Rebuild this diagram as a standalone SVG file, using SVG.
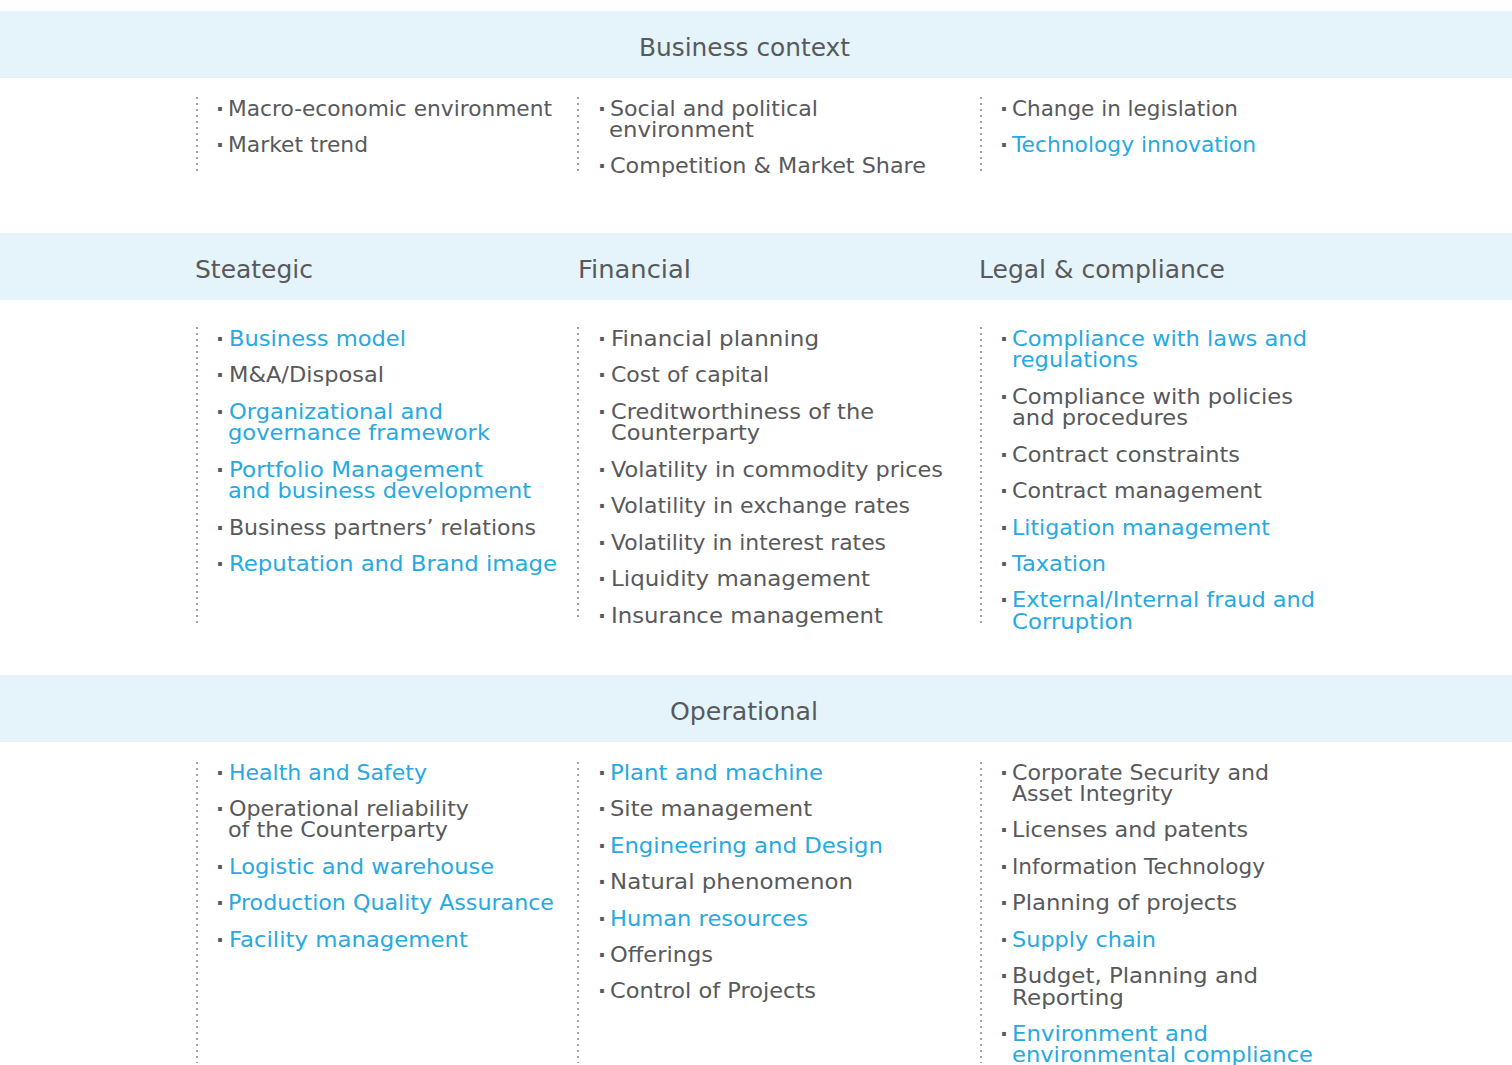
<svg xmlns="http://www.w3.org/2000/svg" width="1512" height="1065" viewBox="0 0 1512 1065">
<style>
.band{fill:#e5f4fb}
.t{font-family:"DejaVu Sans","Liberation Sans",sans-serif;font-size:21px;fill:#58595b}
.b{fill:#27a9e1}
.h{font-family:"DejaVu Sans","Liberation Sans",sans-serif;font-size:24px;fill:#58595b}
.d{font-family:"DejaVu Sans","Liberation Sans",sans-serif;font-size:21px;font-weight:bold;fill:#58595b}
.dots{stroke:#a3a3a3;stroke-width:2;stroke-dasharray:2 4}
</style>
<rect width="1512" height="1065" fill="#ffffff"/>
<g id="bands">
<rect class="band" x="0" y="11" width="1512" height="67"/>
<rect class="band" x="0" y="233" width="1512" height="67"/>
<rect class="band" x="0" y="675" width="1512" height="67"/>
</g>
<g id="headers">
<text class="h" x="639" y="56" textLength="211" lengthAdjust="spacingAndGlyphs">Business context</text>
<text class="h" x="195" y="278" textLength="118" lengthAdjust="spacingAndGlyphs">Steategic</text>
<text class="h" x="578" y="278" textLength="113" lengthAdjust="spacingAndGlyphs">Financial</text>
<text class="h" x="979" y="278" textLength="246" lengthAdjust="spacingAndGlyphs">Legal &amp; compliance</text>
<text class="h" x="670" y="720" textLength="148" lengthAdjust="spacingAndGlyphs">Operational</text>
</g>
<g id="connectors">
<line class="dots" x1="197" y1="97" x2="197" y2="173"/>
<line class="dots" x1="578" y1="97" x2="578" y2="173"/>
<line class="dots" x1="981" y1="97" x2="981" y2="173"/>
<line class="dots" x1="197" y1="327" x2="197" y2="623"/>
<line class="dots" x1="578" y1="327" x2="578" y2="621"/>
<line class="dots" x1="981" y1="327" x2="981" y2="623"/>
<line class="dots" x1="197" y1="762" x2="197" y2="1063"/>
<line class="dots" x1="578" y1="762" x2="578" y2="1063"/>
<line class="dots" x1="981" y1="762" x2="981" y2="1063"/>
</g>
<g id="context-col1">
<text class="d" x="216" y="116">·</text>
<text class="t" x="228" y="116" textLength="324" lengthAdjust="spacingAndGlyphs">Macro-economic environment</text>
<text class="d" x="216" y="152">·</text>
<text class="t" x="228" y="152" textLength="140" lengthAdjust="spacingAndGlyphs">Market trend</text>
</g>
<g id="context-col2">
<text class="d" x="598" y="116">·</text>
<text class="t" x="610" y="116" textLength="208" lengthAdjust="spacingAndGlyphs">Social and political</text>
<text class="t" x="609" y="137" textLength="145" lengthAdjust="spacingAndGlyphs">environment</text>
<text class="d" x="598" y="173">·</text>
<text class="t" x="610" y="173" textLength="316" lengthAdjust="spacingAndGlyphs">Competition &amp; Market Share</text>
</g>
<g id="context-col3">
<text class="d" x="1000" y="116">·</text>
<text class="t" x="1012" y="116" textLength="226" lengthAdjust="spacingAndGlyphs">Change in legislation</text>
<text class="d" x="1000" y="152">·</text>
<text class="t b" x="1012" y="152" textLength="244" lengthAdjust="spacingAndGlyphs">Technology innovation</text>
</g>
<g id="strategic">
<text class="d" x="216" y="346">·</text>
<text class="t b" x="229" y="346" textLength="177" lengthAdjust="spacingAndGlyphs">Business model</text>
<text class="d" x="216" y="382">·</text>
<text class="t" x="229" y="382" textLength="155" lengthAdjust="spacingAndGlyphs">M&amp;A/Disposal</text>
<text class="d" x="216" y="419">·</text>
<text class="t b" x="229" y="419" textLength="214" lengthAdjust="spacingAndGlyphs">Organizational and</text>
<text class="t b" x="228" y="440" textLength="262" lengthAdjust="spacingAndGlyphs">governance framework</text>
<text class="d" x="216" y="477">·</text>
<text class="t b" x="229" y="477" textLength="254" lengthAdjust="spacingAndGlyphs">Portfolio Management</text>
<text class="t b" x="228" y="498" textLength="303" lengthAdjust="spacingAndGlyphs">and business development</text>
<text class="d" x="216" y="535">·</text>
<text class="t" x="229" y="535" textLength="307" lengthAdjust="spacingAndGlyphs">Business partners’ relations</text>
<text class="d" x="216" y="571">·</text>
<text class="t b" x="229" y="571" textLength="328" lengthAdjust="spacingAndGlyphs">Reputation and Brand image</text>
</g>
<g id="financial">
<text class="d" x="598" y="346">·</text>
<text class="t" x="611" y="346" textLength="208" lengthAdjust="spacingAndGlyphs">Financial planning</text>
<text class="d" x="598" y="382">·</text>
<text class="t" x="611" y="382" textLength="158" lengthAdjust="spacingAndGlyphs">Cost of capital</text>
<text class="d" x="598" y="419">·</text>
<text class="t" x="611" y="419" textLength="263" lengthAdjust="spacingAndGlyphs">Creditworthiness of the</text>
<text class="t" x="611" y="440" textLength="149" lengthAdjust="spacingAndGlyphs">Counterparty</text>
<text class="d" x="598" y="477">·</text>
<text class="t" x="611" y="477" textLength="332" lengthAdjust="spacingAndGlyphs">Volatility in commodity prices</text>
<text class="d" x="598" y="513">·</text>
<text class="t" x="611" y="513" textLength="299" lengthAdjust="spacingAndGlyphs">Volatility in exchange rates</text>
<text class="d" x="598" y="550">·</text>
<text class="t" x="611" y="550" textLength="275" lengthAdjust="spacingAndGlyphs">Volatility in interest rates</text>
<text class="d" x="598" y="586">·</text>
<text class="t" x="611" y="586" textLength="259" lengthAdjust="spacingAndGlyphs">Liquidity management</text>
<text class="d" x="598" y="623">·</text>
<text class="t" x="611" y="623" textLength="272" lengthAdjust="spacingAndGlyphs">Insurance management</text>
</g>
<g id="legal">
<text class="d" x="1000" y="346">·</text>
<text class="t b" x="1012" y="346" textLength="295" lengthAdjust="spacingAndGlyphs">Compliance with laws and</text>
<text class="t b" x="1012" y="367" textLength="126" lengthAdjust="spacingAndGlyphs">regulations</text>
<text class="d" x="1000" y="404">·</text>
<text class="t" x="1012" y="404" textLength="281" lengthAdjust="spacingAndGlyphs">Compliance with policies</text>
<text class="t" x="1012" y="425" textLength="176" lengthAdjust="spacingAndGlyphs">and procedures</text>
<text class="d" x="1000" y="462">·</text>
<text class="t" x="1012" y="462" textLength="228" lengthAdjust="spacingAndGlyphs">Contract constraints</text>
<text class="d" x="1000" y="498">·</text>
<text class="t" x="1012" y="498" textLength="250" lengthAdjust="spacingAndGlyphs">Contract management</text>
<text class="d" x="1000" y="535">·</text>
<text class="t b" x="1012" y="535" textLength="258" lengthAdjust="spacingAndGlyphs">Litigation management</text>
<text class="d" x="1000" y="571">·</text>
<text class="t b" x="1012" y="571" textLength="94" lengthAdjust="spacingAndGlyphs">Taxation</text>
<text class="d" x="1000" y="607">·</text>
<text class="t b" x="1012" y="607" textLength="303" lengthAdjust="spacingAndGlyphs">External/Internal fraud and</text>
<text class="t b" x="1012" y="629" textLength="121" lengthAdjust="spacingAndGlyphs">Corruption</text>
</g>
<g id="operational-col1">
<text class="d" x="216" y="780">·</text>
<text class="t b" x="229" y="780" textLength="198" lengthAdjust="spacingAndGlyphs">Health and Safety</text>
<text class="d" x="216" y="816">·</text>
<text class="t" x="229" y="816" textLength="240" lengthAdjust="spacingAndGlyphs">Operational reliability</text>
<text class="t" x="228" y="837" textLength="220" lengthAdjust="spacingAndGlyphs">of the Counterparty</text>
<text class="d" x="216" y="874">·</text>
<text class="t b" x="229" y="874" textLength="265" lengthAdjust="spacingAndGlyphs">Logistic and warehouse</text>
<text class="d" x="216" y="910">·</text>
<text class="t b" x="228" y="910" textLength="326" lengthAdjust="spacingAndGlyphs">Production Quality Assurance</text>
<text class="d" x="216" y="947">·</text>
<text class="t b" x="229" y="947" textLength="239" lengthAdjust="spacingAndGlyphs">Facility management</text>
</g>
<g id="operational-col2">
<text class="d" x="598" y="780">·</text>
<text class="t b" x="610" y="780" textLength="213" lengthAdjust="spacingAndGlyphs">Plant and machine</text>
<text class="d" x="598" y="816">·</text>
<text class="t" x="610" y="816" textLength="202" lengthAdjust="spacingAndGlyphs">Site management</text>
<text class="d" x="598" y="853">·</text>
<text class="t b" x="610" y="853" textLength="273" lengthAdjust="spacingAndGlyphs">Engineering and Design</text>
<text class="d" x="598" y="889">·</text>
<text class="t" x="610" y="889" textLength="243" lengthAdjust="spacingAndGlyphs">Natural phenomenon</text>
<text class="d" x="598" y="926">·</text>
<text class="t b" x="610" y="926" textLength="198" lengthAdjust="spacingAndGlyphs">Human resources</text>
<text class="d" x="598" y="962">·</text>
<text class="t" x="610" y="962" textLength="103" lengthAdjust="spacingAndGlyphs">Offerings</text>
<text class="d" x="598" y="998">·</text>
<text class="t" x="610" y="998" textLength="206" lengthAdjust="spacingAndGlyphs">Control of Projects</text>
</g>
<g id="operational-col3">
<text class="d" x="1000" y="780">·</text>
<text class="t" x="1012" y="780" textLength="257" lengthAdjust="spacingAndGlyphs">Corporate Security and</text>
<text class="t" x="1012" y="801" textLength="161" lengthAdjust="spacingAndGlyphs">Asset Integrity</text>
<text class="d" x="1000" y="837">·</text>
<text class="t" x="1012" y="837" textLength="236" lengthAdjust="spacingAndGlyphs">Licenses and patents</text>
<text class="d" x="1000" y="874">·</text>
<text class="t" x="1012" y="874" textLength="253" lengthAdjust="spacingAndGlyphs">Information Technology</text>
<text class="d" x="1000" y="910">·</text>
<text class="t" x="1012" y="910" textLength="225" lengthAdjust="spacingAndGlyphs">Planning of projects</text>
<text class="d" x="1000" y="947">·</text>
<text class="t b" x="1012" y="947" textLength="144" lengthAdjust="spacingAndGlyphs">Supply chain</text>
<text class="d" x="1000" y="983">·</text>
<text class="t" x="1012" y="983" textLength="246" lengthAdjust="spacingAndGlyphs">Budget, Planning and</text>
<text class="t" x="1012" y="1005" textLength="112" lengthAdjust="spacingAndGlyphs">Reporting</text>
<text class="d" x="1000" y="1041">·</text>
<text class="t b" x="1012" y="1041" textLength="196" lengthAdjust="spacingAndGlyphs">Environment and</text>
<text class="t b" x="1012" y="1062" textLength="301" lengthAdjust="spacingAndGlyphs">environmental compliance</text>
</g>
</svg>
